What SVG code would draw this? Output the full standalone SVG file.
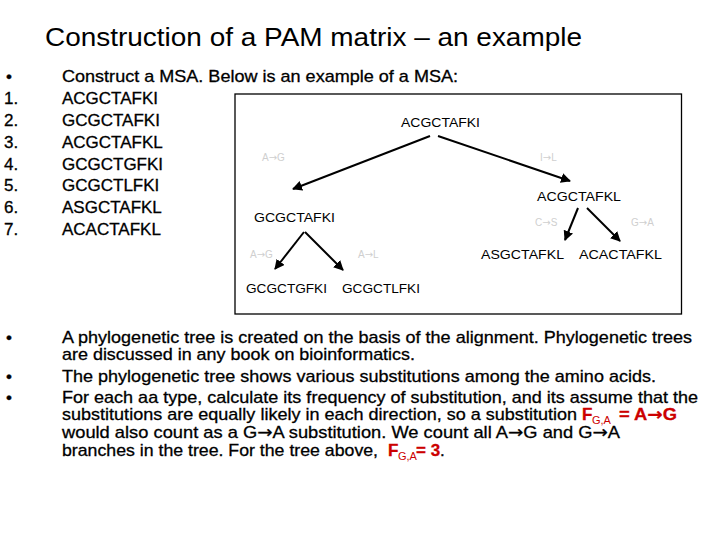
<svg xmlns="http://www.w3.org/2000/svg" width="720" height="540" viewBox="0 0 720 540">
<defs>
<style>
.t{font-family:"Liberation Sans",Arial,sans-serif;fill:#000}
.title{font-size:26px}
.b{font-size:17px;stroke:#000;stroke-width:0.3}
.n{font-size:13px}
.f{font-size:10px;fill:#cfcfcf}
.r{fill:#cc0000;stroke:#cc0000;font-weight:bold}
.sub{font-size:11px;fill:#cc0000}
.ar{font-family:"DejaVu Sans",sans-serif}
.edge{stroke:#000;stroke-width:2;fill:none;marker-end:url(#ah)}
</style>
<marker id="ah" viewBox="0 0 10 10" refX="9" refY="5" markerWidth="5" markerHeight="5" orient="auto" markerUnits="strokeWidth">
<path d="M0,0 L10,5 L0,10 z" fill="#000"/>
</marker>
</defs>
<rect width="720" height="540" fill="#fff"/>
<text class="t title" x="45" y="46" textLength="537" lengthAdjust="spacingAndGlyphs">Construction of a PAM matrix – an example</text>

<g id="msa">
<text class="t b" x="6" y="82">•</text>
<text class="t b" x="62" y="82" textLength="396" lengthAdjust="spacingAndGlyphs">Construct a MSA. Below is an example of a MSA:</text>
<text class="t b" x="4" y="104">1.</text><text class="t b" x="62" y="104">ACGCTAFKI</text>
<text class="t b" x="4" y="126">2.</text><text class="t b" x="62" y="126">GCGCTAFKI</text>
<text class="t b" x="4" y="148">3.</text><text class="t b" x="62" y="148">ACGCTAFKL</text>
<text class="t b" x="4" y="170">4.</text><text class="t b" x="62" y="170">GCGCTGFKI</text>
<text class="t b" x="4" y="191">5.</text><text class="t b" x="62" y="191">GCGCTLFKI</text>
<text class="t b" x="4" y="213">6.</text><text class="t b" x="62" y="213">ASGCTAFKL</text>
<text class="t b" x="4" y="235">7.</text><text class="t b" x="62" y="235">ACACTAFKL</text>
</g>

<rect x="235" y="94" width="446.5" height="220" fill="#fff" stroke="#000" stroke-width="1.3"/>

<g id="connectors">
<line class="edge" x1="430" y1="136" x2="293" y2="189"/>
<line class="edge" x1="438" y1="136" x2="570" y2="181"/>
<line class="edge" x1="304" y1="232" x2="275" y2="269"/>
<line class="edge" x1="305" y1="232" x2="343" y2="270"/>
<line class="edge" x1="578" y1="208" x2="565" y2="240"/>
<line class="edge" x1="587" y1="208" x2="620" y2="241"/>
</g>

<g id="n_root"><text class="t n" x="401" y="127" textLength="79" lengthAdjust="spacingAndGlyphs">ACGCTAFKI</text></g>
<g id="n_acgctafkl"><text class="t n" x="537" y="201" textLength="84" lengthAdjust="spacingAndGlyphs">ACGCTAFKL</text></g>
<g id="n_gcgctafki"><text class="t n" x="254" y="222" textLength="81" lengthAdjust="spacingAndGlyphs">GCGCTAFKI</text></g>
<g id="n_asgctafkl"><text class="t n" x="481" y="259" textLength="83" lengthAdjust="spacingAndGlyphs">ASGCTAFKL</text></g>
<g id="n_acactafkl"><text class="t n" x="579" y="259" textLength="83" lengthAdjust="spacingAndGlyphs">ACACTAFKL</text></g>
<g id="n_gcgctgfki"><text class="t n" x="246" y="293" textLength="81" lengthAdjust="spacingAndGlyphs">GCGCTGFKI</text></g>
<g id="n_gcgctlfki"><text class="t n" x="342" y="293" textLength="78" lengthAdjust="spacingAndGlyphs">GCGCTLFKI</text></g>

<g id="edge_labels">
<text class="t f" x="262" y="161">A<tspan class="ar">→</tspan>G</text>
<text class="t f" x="540" y="161">I<tspan class="ar">→</tspan>L</text>
<text class="t f" x="535" y="226">C<tspan class="ar">→</tspan>S</text>
<text class="t f" x="631" y="226">G<tspan class="ar">→</tspan>A</text>
<text class="t f" x="250" y="258">A<tspan class="ar">→</tspan>G</text>
<text class="t f" x="358" y="258">A<tspan class="ar">→</tspan>L</text>
</g>

<g id="notes">
<text class="t b" x="6" y="343">•</text>
<text class="t b" x="62" y="343" textLength="630" lengthAdjust="spacingAndGlyphs">A phylogenetic tree is created on the basis of the alignment. Phylogenetic trees</text>
<text class="t b" x="62" y="360" textLength="353" lengthAdjust="spacingAndGlyphs">are discussed in any book on bioinformatics.</text>
<text class="t b" x="6" y="382">•</text>
<text class="t b" x="62" y="382" textLength="594" lengthAdjust="spacingAndGlyphs">The phylogenetic tree shows various substitutions among the amino acids.</text>
<text class="t b" x="6" y="403">•</text>
<text class="t b" x="62" y="403" textLength="636" lengthAdjust="spacingAndGlyphs">For each aa type, calculate its frequency of substitution, and its assume that the</text>
<text class="t b" x="62" y="420" textLength="515" lengthAdjust="spacingAndGlyphs">substitutions are equally likely in each direction, so a substitution</text>
<text class="t b r" x="582" y="420">F</text>
<text class="t sub" x="592" y="424">G,A</text>
<text class="t b r" x="619" y="420" textLength="58" lengthAdjust="spacingAndGlyphs">= A<tspan class="ar">→</tspan>G</text>
<text class="t b" x="62" y="438" textLength="558" lengthAdjust="spacingAndGlyphs">would also count as a G<tspan class="ar">→</tspan>A substitution. We count all A<tspan class="ar">→</tspan>G and G<tspan class="ar">→</tspan>A</text>
<text class="t b" x="62" y="456" textLength="316" lengthAdjust="spacingAndGlyphs">branches in the tree. For the tree above,</text>
<text class="t b r" x="388" y="456">F</text>
<text class="t sub" x="398" y="460">G,A</text>
<text class="t b" x="416" y="456"><tspan class="r">= 3</tspan>.</text>
</g>
</svg>
